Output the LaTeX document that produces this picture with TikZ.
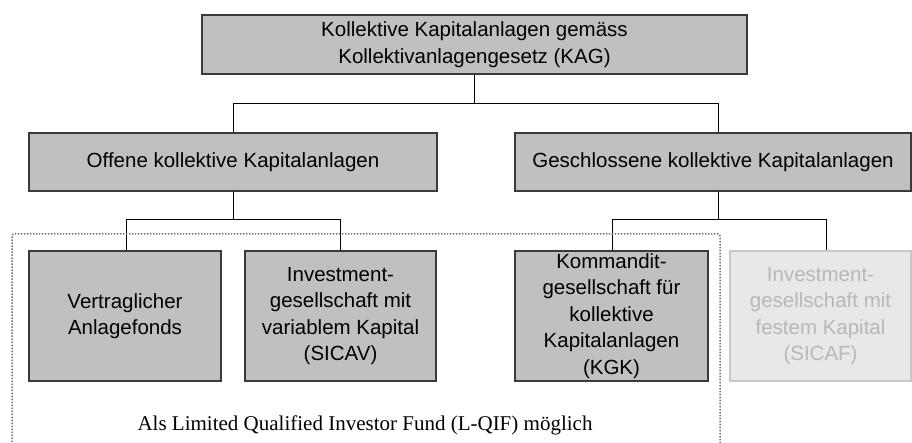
\documentclass[tikz,border=0pt]{standalone}
\usepackage{fontspec}
\setmainfont{Liberation Sans}
\newfontfamily\serifface{Liberation Serif}
\definecolor{boxfill}{HTML}{C0C0C0}
\definecolor{boxline}{HTML}{3A3A3A}
\definecolor{palefill}{HTML}{E8E8E8}
\definecolor{paleline}{HTML}{C8C8C8}
\definecolor{paletext}{HTML}{B8B8B8}
\definecolor{dotline}{HTML}{707070}
\begin{document}
\begin{tikzpicture}[x=1pt,y=-1pt,
  box/.style={draw=boxline, fill=boxfill, line width=1.5pt, rectangle, align=center,
    inner sep=0pt, font=\fontsize{20.5}{26.5}\selectfont, text=black},
  palebox/.style={box, draw=paleline, fill=palefill, text=paletext},
  conn/.style={draw=black, line width=1pt}]
\useasboundingbox (0,0) rectangle (912,443);
\node[box, minimum width=545pt, minimum height=59pt] (top) at (474.5,44.5)
  {Kollektive Kapitalanlagen gemäss\\Kollektivanlagengesetz (KAG)};
\node[box, minimum width=408pt, minimum height=58pt] (off) at (233,162)
  {Offene kollektive Kapitalanlagen};
\node[box, minimum width=396pt, minimum height=58pt] (ges) at (713,162)
  {Geschlossene kollektive Kapitalanlagen};
\node[box, minimum width=192pt, minimum height=130pt] (vaf) at (125,316)
  {Vertraglicher\\Anlagefonds};
\node[box, minimum width=191pt, minimum height=130pt] (sicav) at (340.5,316)
  {Investment-\\gesellschaft mit\\variablem Kapital\\(SICAV)};
\node[box, minimum width=193pt, minimum height=130pt] (kgk) at (611.5,316)
  {Kommandit-\\gesellschaft für\\kollektive\\Kapitalanlagen\\(KGK)};
\node[palebox, minimum width=181pt, minimum height=130pt] (sicaf) at (820.5,316)
  {Investment-\\gesellschaft mit\\festem Kapital\\(SICAF)};
% connectors
\coordinate (j1) at (474.5,104);
\coordinate (j2) at (233,220);
\coordinate (j3) at (718,220);
\draw[conn] (top.south) -- (j1);
\draw[conn] (off.north) |- (j1);
\draw[conn] ([xshift=5pt]ges.north) |- (j1);
\draw[conn] (off.south) -- (j2);
\draw[conn] ([xshift=1pt]vaf.north) |- (j2);
\draw[conn] ([xshift=-0.5pt]sicav.north) |- (j2);
\draw[conn] ([xshift=5pt]ges.south) -- (j3);
\draw[conn] ([xshift=0.5pt]kgk.north) |- (j3);
\draw[conn] ([xshift=5.5pt]sicaf.north) |- (j3);
% dotted frame
\coordinate (d1) at (12,445);
\coordinate (d2) at (12,234);
\coordinate (d3) at (720,234);
\coordinate (d4) at (720,445);
\draw[dotline, line width=1.5pt, dash pattern=on 1.5pt off 1.5pt, rounded corners=2pt] (d1) -- (d2) -- (d3) -- (d4);
\node[font=\serifface\fontsize{21}{24}\selectfont, inner sep=0pt] (lqif) at (365,425)
  {Als Limited Qualified Investor Fund (L-QIF) möglich};
\end{tikzpicture}
\end{document}
